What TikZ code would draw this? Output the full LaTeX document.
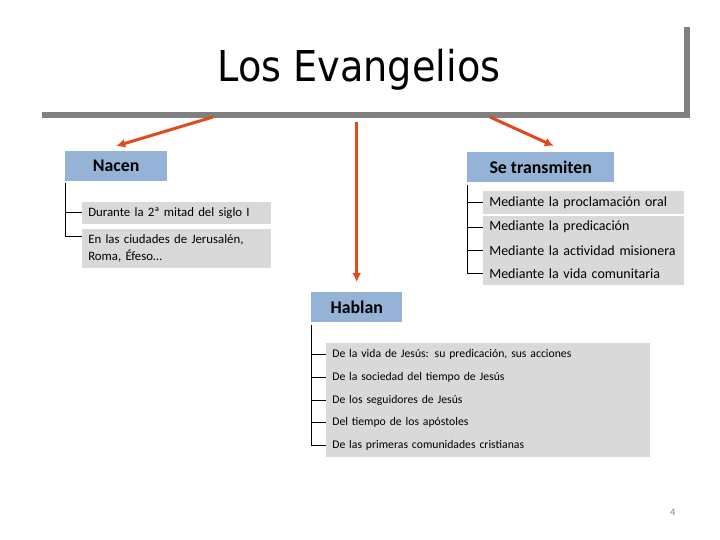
\documentclass[tikz,border=0pt]{standalone}
\usepackage{fontspec}
\setmainfont{Carlito}
\newfontfamily\titulofont{DejaVu Sans Condensed}
\usepackage{xcolor}
\usetikzlibrary{arrows.meta, positioning}
\definecolor{azulcab}{HTML}{95B3D7}
\definecolor{grisitem}{HTML}{D9D9D9}
\definecolor{rojoflecha}{HTML}{E2491D}
\definecolor{grissombra}{HTML}{808080}

\begin{document}
\begin{tikzpicture}[
    x=1pt, y=-1pt,
    node distance=0pt,
    % Estilos de nodos
    titulo/.style={font=\titulofont\fontsize{42.5}{48}\selectfont, anchor=base},
    cabecera/.style={rectangle, fill=azulcab, anchor=north west, minimum height=30pt, inner sep=0pt, font=\bfseries\fontsize{17.8}{20}\selectfont},
    item/.style={rectangle, fill=grisitem, draw=grisitem, line width=0.6pt, anchor=north west, text width=#1, minimum height=22.5pt, inner xsep=6pt, inner ysep=0pt, align=left},
    izq/.style={font=\fontsize{12.8}{16.5}\selectfont},
    der/.style={font=\fontsize{14}{16}\selectfont},
    abajo/.style={font=\fontsize{11.7}{14}\selectfont},
    flecha/.style={-{Latex[length=9pt,width=9pt]}, line width=3pt, rojoflecha},
    rama/.style={black, line width=0.8pt},
    pagina/.style={font=\fontsize{10}{12}\selectfont, text=gray}
]
\useasboundingbox (0,0) rectangle (720,540);

% Titulo con su sombra
\node[titulo] (titulo) at (359,82) {Los Evangelios};
\fill[grissombra] (684,27) rectangle (690,118);
\fill[grissombra] (42,112) rectangle (690,118);

% Cabeceras
\node[cabecera, minimum width=102pt] (nacen) at (65,151) {Nacen};
\node[cabecera, minimum width=147pt] (transmiten) at (467,152) {Se transmiten};
\node[cabecera, minimum width=91pt] (hablan) at (311,292) {Hablan};

% Nacen
\node[item=176pt, izq, minimum height=21pt] (durante) at (82,202) {Durante la 2ª mitad del siglo I};
\node[item=176pt, izq, minimum height=38pt] (ciudades) at (82,229) {En las ciudades de Jerusalén,\\Roma, Éfeso…};

% Se transmiten
\node[item=188pt, der, minimum height=22pt] (oral) at (483,191) {Mediante la proclamación oral};
\node[item=188pt, der, below=2pt of oral] (predicacion) {Mediante la predicación};
\node[item=188pt, der, below=of predicacion] (mision) {Mediante la actividad misionera};
\node[item=188pt, der, below=of mision] (comunidad) {Mediante la vida comunitaria};

% Hablan
\node[item=311pt, abajo, minimum height=22.2pt] (vida) at (326,343) {De la vida de Jesús: su predicación, sus acciones};
\node[item=311pt, abajo, minimum height=22.2pt, below=of vida] (sociedad) {De la sociedad del tiempo de Jesús};
\node[item=311pt, abajo, minimum height=22.2pt, below=of sociedad] (seguidores) {De los seguidores de Jesús};
\node[item=311pt, abajo, minimum height=22.2pt, below=of seguidores] (apostoles) {Del tiempo de los apóstoles};
\node[item=311pt, abajo, minimum height=22.2pt, below=of apostoles] (primeras) {De las primeras comunidades cristianas};

% Ramas
\draw[rama] ([yshift=-2pt]nacen.south west) |- (durante.west);
\draw[rama] ([yshift=-2pt]nacen.south west) |- ([yshift=-7pt]ciudades.north west);
\foreach \n in {oral, predicacion, mision, comunidad}
  \draw[rama] ([yshift=-3pt]transmiten.south west) |- (\n.west);
\foreach \n in {vida, sociedad, seguidores, apostoles, primeras}
  \draw[rama] ([yshift=-3pt]hablan.south west) |- (\n.west);

% Flechas desde el titulo
\coordinate (salidaI) at (213,117);
\coordinate (salidaD) at (490,117);
\coordinate (salidaC) at (hablan.north |- 0,122);
\draw[flecha] (salidaI) -- ([yshift=5pt]nacen.north);
\draw[flecha] (salidaC) -- ([yshift=10pt]hablan.north);
\draw[flecha] (salidaD) -- ([xshift=13pt,yshift=6pt]transmiten.north);

\node[pagina] (pagina) at (673,512) {4};
\end{tikzpicture}
\end{document}
